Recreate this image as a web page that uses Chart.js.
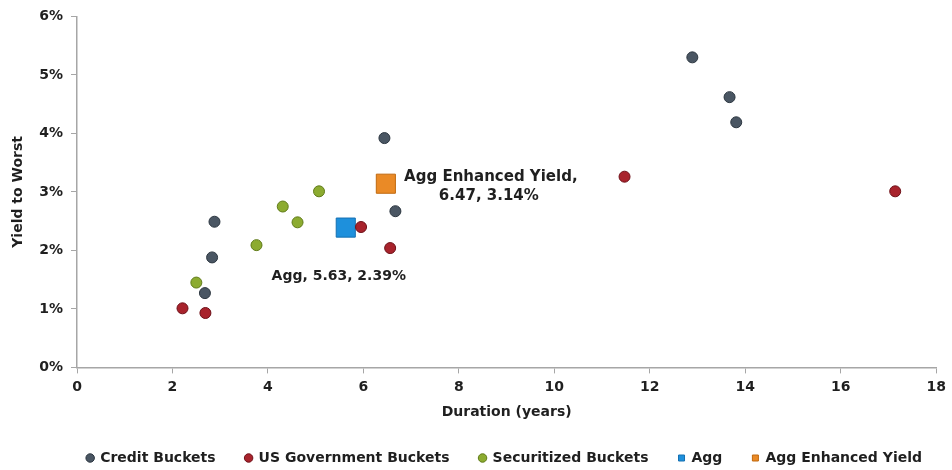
<!DOCTYPE html>
<html>
<head>
<meta charset="utf-8">
<script src="https://cdn.jsdelivr.net/npm/chart.js@4/dist/chart.umd.min.js"></script>
<style>
html,body{margin:0;padding:0;background:#fff;}
#wrap{width:952px;height:470px;}
</style>
</head>
<body>
<div id="wrap"><canvas id="c" width="952" height="470"></canvas></div>
<script>
// Duration (years) and Yield to Worst (%) per bucket
const creditDuration = [2.88, 2.83, 2.68, 6.44, 6.67, 12.89, 13.67, 13.81];
const creditYield    = [2.49, 1.88, 1.27, 3.92, 2.67, 5.30, 4.62, 4.19];
const govDuration    = [2.21, 2.69, 5.95, 6.56, 11.47, 17.14];
const govYield       = [1.01, 0.93, 2.40, 2.04, 3.26, 3.01];
const secDuration    = [2.50, 3.76, 4.31, 4.62, 5.07];
const secYield       = [1.45, 2.09, 2.75, 2.48, 3.01];
const aggDuration    = [5.63];
const aggYield       = [2.39];
const enhDuration    = [6.47];
const enhYield       = [3.14];
const seriesNames = ['Credit Buckets', 'US Government Buckets', 'Securitized Buckets', 'Agg', 'Agg Enhanced Yield'];
const xTicks = [0, 2, 4, 6, 8, 10, 12, 14, 16, 18];
const yTicks = [0, 1, 2, 3, 4, 5, 6];

const pts = (xs, ys) => xs.map((x, i) => ({x: x, y: ys[i]}));
const FONT = "'DejaVu Sans', sans-serif";
const TXT = '#1f1f1f';

const labelPlugin = {
  id: 'pointLabels',
  afterDatasetsDraw(chart) {
    const ctx = chart.ctx;
    const xs = chart.scales.x, ys = chart.scales.y;
    ctx.save();
    ctx.fillStyle = TXT;
    ctx.textAlign = 'center';
    ctx.textBaseline = 'middle';
    // Agg Enhanced Yield label (two lines, right of marker)
    ctx.font = 'bold 15px ' + FONT;
    const ex = xs.getPixelForValue(enhDuration[0]);
    const ey = ys.getPixelForValue(enhYield[0]);
    ctx.fillText(seriesNames[4] + ',', ex + 105, ey - 7);
    ctx.fillText(enhDuration[0].toFixed(2) + ', ' + enhYield[0].toFixed(2) + '%', ex + 103, ey + 12);
    // Agg label (below marker)
    ctx.font = 'bold 14px ' + FONT;
    const ax = xs.getPixelForValue(aggDuration[0]);
    const ay = ys.getPixelForValue(aggYield[0]);
    ctx.fillText(seriesNames[3] + ', ' + aggDuration[0].toFixed(2) + ', ' + aggYield[0].toFixed(2) + '%', ax - 7, ay + 49);
    ctx.restore();
  }
};

new Chart(document.getElementById('c'), {
  type: 'scatter',
  data: {
    datasets: [
      {label: seriesNames[0], data: pts(creditDuration, creditYield), pointStyle: 'circle', pointRadius: 5.5, backgroundColor: '#4a5663', borderColor: '#2c3640', borderWidth: 1},
      {label: seriesNames[1], data: pts(govDuration, govYield), pointStyle: 'circle', pointRadius: 5.5, backgroundColor: '#a8232c', borderColor: '#6e1018', borderWidth: 1},
      {label: seriesNames[2], data: pts(secDuration, secYield), pointStyle: 'circle', pointRadius: 5.5, backgroundColor: '#8cab30', borderColor: '#5f7a18', borderWidth: 1},
      {label: seriesNames[3], data: pts(aggDuration, aggYield), pointStyle: 'rect', pointRadius: 13.5, backgroundColor: '#1e90dc', borderColor: '#1570b2', borderWidth: 1},
      {label: seriesNames[4], data: pts(enhDuration, enhYield), pointStyle: 'rect', pointRadius: 13.5, backgroundColor: '#ea8a26', borderColor: '#c0680e', borderWidth: 1}
    ]
  },
  options: {
    responsive: false,
    animation: false,
    devicePixelRatio: 1,
    layout: {padding: {left: 0, right: 0, top: 12.5, bottom: -5}},
    plugins: {
      tooltip: {enabled: false},
      legend: {
        position: 'bottom',
        align: 'end',
        labels: {
          usePointStyle: true,
          boxWidth: 6, boxHeight: 6,
          padding: 30,
          color: TXT,
          font: {family: FONT, size: 14, weight: 'bold'}
        }
      }
    },
    scales: {
      x: {
        type: 'linear', min: 0, max: 18,
        afterBuildTicks: (s) => { s.ticks = xTicks.map(v => ({value: v})); },
        grid: {display: true, drawOnChartArea: false, drawTicks: true, tickLength: 6, color: '#a6a6a6'},
        border: {display: true, color: '#a6a6a6', width: 1.5},
        ticks: {color: TXT, padding: 6, font: {family: FONT, size: 14, weight: 'bold'}},
        title: {display: true, text: 'Duration (years)', color: TXT, padding: {top: 2, bottom: 0}, font: {family: FONT, size: 14, weight: 'bold'}}
      },
      y: {
        type: 'linear', min: 0, max: 6,
        afterBuildTicks: (s) => { s.ticks = yTicks.map(v => ({value: v})); },
        afterFit: (s) => { s.width = 77; },
        grid: {display: true, drawOnChartArea: false, drawTicks: true, tickLength: 6, color: '#a6a6a6'},
        border: {display: true, color: '#a6a6a6', width: 1.5},
        ticks: {color: TXT, padding: 8, font: {family: FONT, size: 14, weight: 'bold'}, callback: (v) => v + '%'},
        title: {display: true, text: 'Yield to Worst', color: TXT, padding: {top: 10, bottom: 0}, font: {family: FONT, size: 14, weight: 'bold'}}
      }
    }
  },
  plugins: [labelPlugin]
});
</script>
</body>
</html>
